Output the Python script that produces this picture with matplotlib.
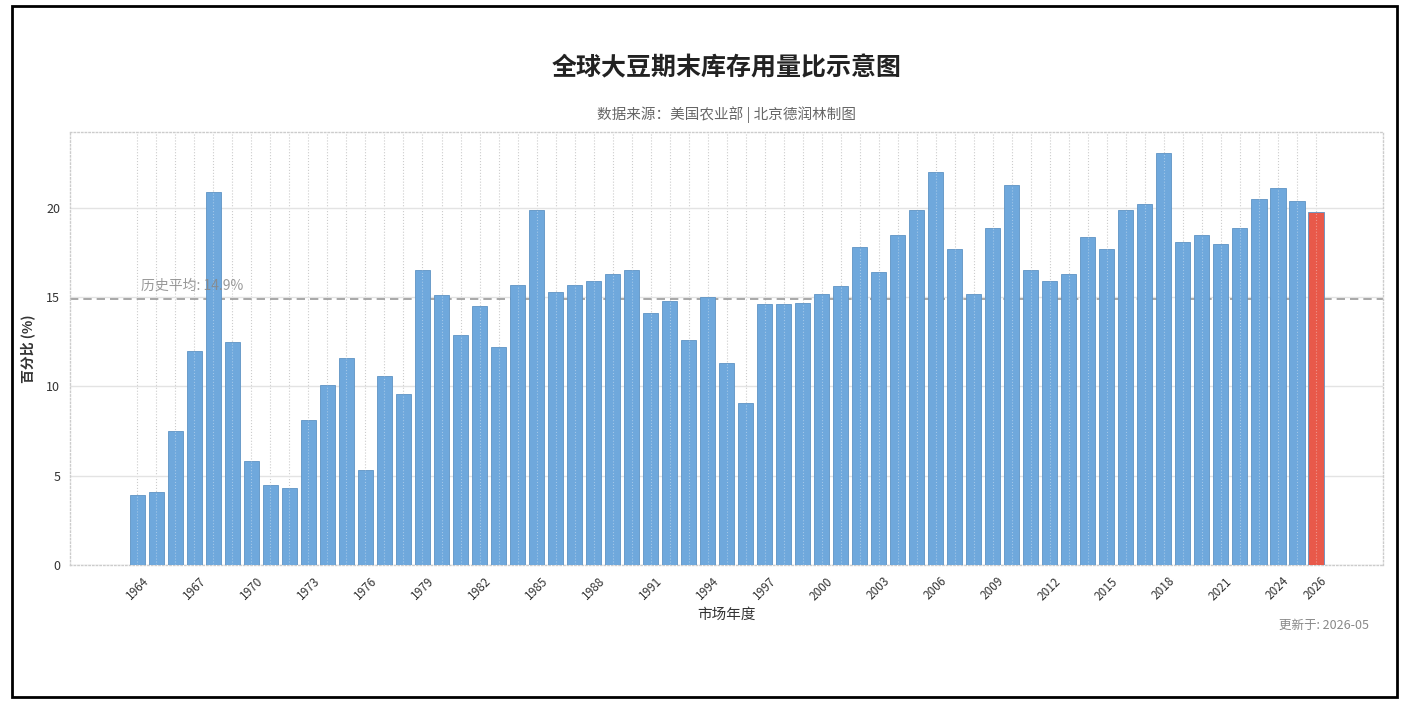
import matplotlib
matplotlib.use("Agg")
import matplotlib.pyplot as plt
from matplotlib.patches import Rectangle

plt.rcParams['font.family'] = ['Noto Sans CJK SC', 'DejaVu Sans']

years = list(range(1964, 2027))
ratios = [3.9, 4.1, 7.5, 12.0, 20.9, 12.5, 5.8, 4.5, 4.3, 8.1,
          10.1, 11.6, 5.3, 10.6, 9.6, 16.5, 15.1, 12.9, 14.5, 12.2,
          15.7, 19.9, 15.3, 15.7, 15.9, 16.3, 16.5, 14.1, 14.8, 12.6,
          15.0, 11.3, 9.1, 14.6, 14.6, 14.7, 15.2, 15.6, 17.8, 16.4,
          18.5, 19.9, 22.0, 17.7, 15.2, 18.9, 21.3, 16.5, 15.9, 16.3,
          18.4, 17.7, 19.9, 20.2, 23.1, 18.1, 18.5, 18.0, 18.9, 20.5,
          21.1, 20.4, 19.8]
hist_avg = 14.9
tick_years = list(range(1964, 2025, 3)) + [2026]

title = '全球大豆期末库存用量比示意图'
subtitle = '数据来源：美国农业部 | 北京德润林制图'
xlabel = '市场年度'
ylabel = '百分比 (%)'
avg_label = f'历史平均: {hist_avg}%'
footer = '更新于: 2026-05'

blue = '#6fa8dc'
red = '#e8594a'

fig = plt.figure(figsize=(14.1, 7.05), dpi=100)
ax = fig.add_axes([0.0496, 0.1986, 0.9314, 0.6142])

colors = [blue] * (len(years) - 1) + [red]
ax.bar(years, ratios, width=0.82, color=colors, edgecolor='#5e93c4',
       linewidth=0.6, zorder=3)
# faint dotted year gridlines showing through the bars
ax.vlines(years, 0, ratios, colors='white', linestyles=':', linewidth=0.8,
          alpha=0.35, zorder=3.5)

ax.axhline(hist_avg, color='#999999', linestyle=(0, (5, 3)), linewidth=1.2, zorder=2)
ax.text(years[0] + 0.2, hist_avg + 0.35, avg_label, color='#888888', alpha=0.85,
        fontsize=10, va='bottom', ha='left', zorder=4)

ax.set_ylim(0, max(ratios) * 1.05)
ax.set_yticks([0, 5, 10, 15, 20])
ax.set_xticks(years)
ax.set_xticklabels([str(y) if y in tick_years else '' for y in years],
                   rotation=45, fontsize=8.5, color='#333333')
ax.tick_params(axis='both', length=0, pad=7)
ax.tick_params(axis='y', labelsize=9, labelcolor='#333333')

ax.set_axisbelow(True)
ax.grid(axis='y', color='#e3e3e3', linewidth=1.0, linestyle='-')
ax.grid(axis='x', color='#cccccc', linewidth=0.8, linestyle=':')
for s in ax.spines.values():
    s.set_linestyle(':')
    s.set_color('#cccccc')
    s.set_linewidth(1.0)

ax.set_xlabel(xlabel, fontsize=10.5, color='#333333', labelpad=4)
ax.set_ylabel(ylabel, fontsize=10, fontweight='bold', color='#333333', labelpad=8)

fig.text(0.515, 0.903, title, fontsize=18, fontweight='bold', ha='center',
         va='center', color='#222222')
fig.text(0.515, 0.837, subtitle, fontsize=10.5, ha='center', va='center',
         color='#666666')
fig.text(0.971, 0.113, footer, fontsize=9, ha='right', va='center',
         color='#888888')

fig.patches.append(Rectangle((0.0085, 0.012), 0.982, 0.979, transform=fig.transFigure,
                             fill=False, edgecolor='black', linewidth=2))

fig.savefig('out.png', dpi=100, facecolor='white')
